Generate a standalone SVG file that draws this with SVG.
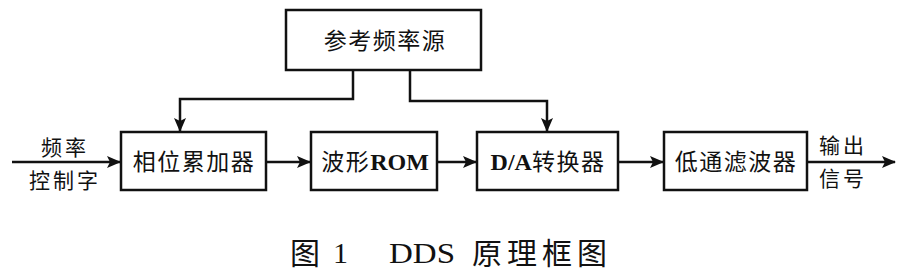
<svg xmlns="http://www.w3.org/2000/svg" width="901" height="278" viewBox="0 0 901 278">
<style>
.box{fill:#fff;stroke:#111;stroke-width:2.5}
.ln{fill:none;stroke:#111;stroke-width:2.5}
.t{font-family:"Liberation Serif","Noto Sans CJK SC",serif;font-size:23px;fill:#111;text-anchor:middle;letter-spacing:1.5px}
.b{font-weight:bold;font-size:24px;letter-spacing:0}
.lab{font-family:"Liberation Serif","Noto Sans CJK SC",serif;font-size:21px;fill:#111;text-anchor:middle;letter-spacing:3px}
.cap{font-family:"Liberation Serif","Noto Sans CJK SC",serif;font-size:30px;fill:#111}
</style>
<defs>
<marker id="ah" markerWidth="14" markerHeight="12" refX="13" refY="6" orient="auto" markerUnits="userSpaceOnUse">
<path d="M0,0 L14,6 L0,12 L3,6 Z" fill="#111"/>
</marker>
</defs>
<g id="connectors">
<path class="ln" d="M12,162 L120,162" marker-end="url(#ah)"/>
<path class="ln" d="M266,162 L310,162" marker-end="url(#ah)"/>
<path class="ln" d="M437,162 L476,162" marker-end="url(#ah)"/>
<path class="ln" d="M618,162 L663,162" marker-end="url(#ah)"/>
<path class="ln" d="M807,162 L895,162" marker-end="url(#ah)"/>
<path class="ln" d="M353,70 L353,99 L180,99 L180,131" marker-end="url(#ah)"/>
<path class="ln" d="M410,70 L410,101 L547,101 L547,131" marker-end="url(#ah)"/>
</g>
<g id="ref">
<rect class="box" x="286" y="10" width="195" height="60"/>
<text class="t" x="385" y="49">参考频率源</text>
</g>
<g id="acc">
<rect class="box" x="121" y="132" width="145" height="58"/>
<text class="t" x="194" y="170">相位累加器</text>
</g>
<g id="rom">
<rect class="box" x="311" y="132" width="126" height="58"/>
<text class="t" x="375" y="170">波形<tspan class="b">ROM</tspan></text>
</g>
<g id="da">
<rect class="box" x="477" y="132" width="141" height="58"/>
<text class="t" x="548" y="170"><tspan class="b">D/A</tspan>转换器</text>
</g>
<g id="lpf">
<rect class="box" x="664" y="132" width="143" height="58"/>
<text class="t" x="736" y="170">低通滤波器</text>
</g>
<g id="in-label">
<text class="lab" x="65" y="155">频率</text>
<text class="lab" x="65" y="188">控制字</text>
</g>
<g id="out-label">
<text class="lab" x="843" y="153">输出</text>
<text class="lab" x="843" y="186">信号</text>
</g>
<g id="caption">
<text class="cap" x="290" y="264">图</text>
<text class="cap" x="333" y="263">1</text>
<text class="cap" x="389" y="263" font-size="35" textLength="66" lengthAdjust="spacingAndGlyphs">DDS</text>
<text class="cap" x="472" y="264" letter-spacing="5">原理框图</text>
</g>
</svg>
